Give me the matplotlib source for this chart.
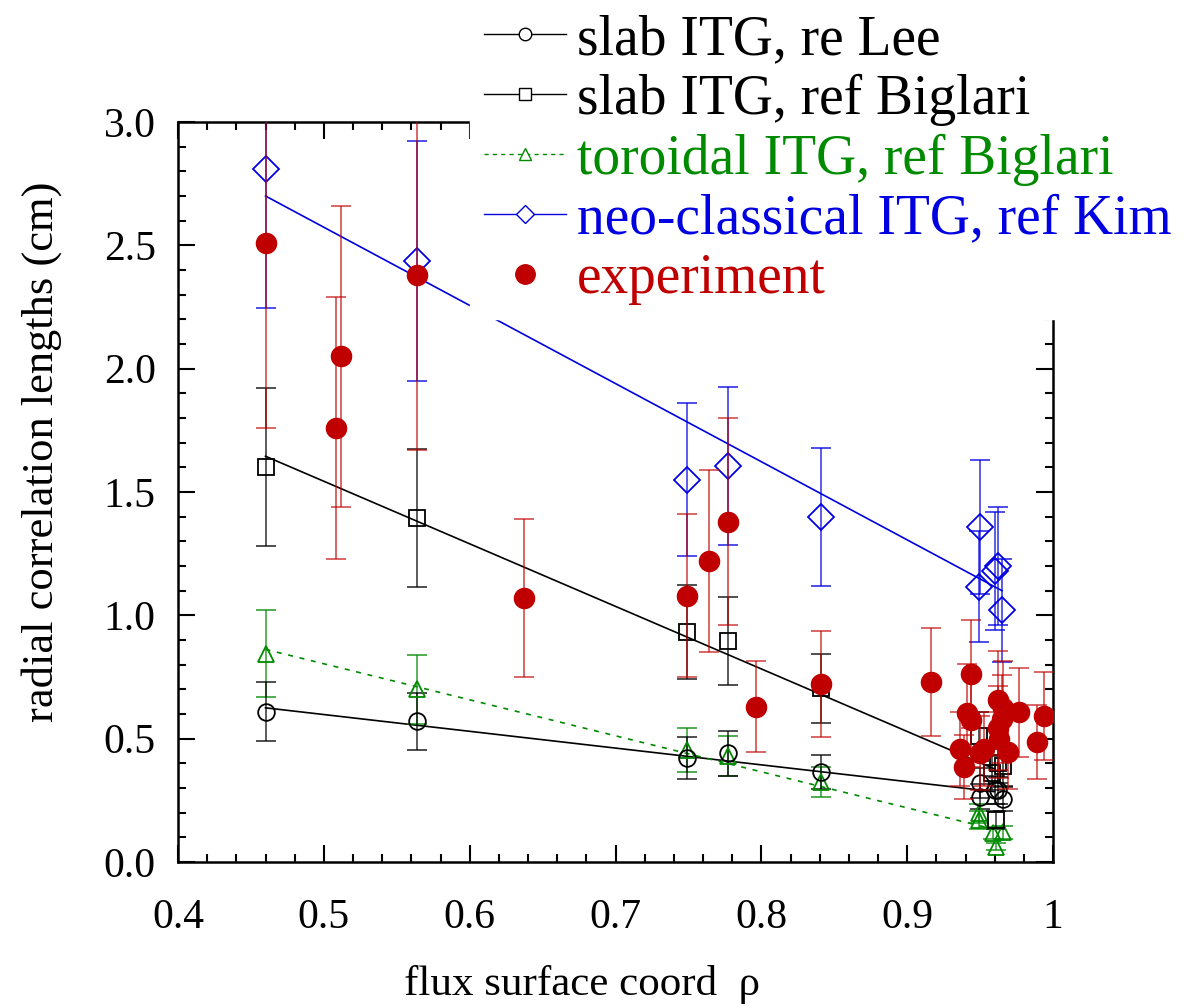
"""
Radial correlation lengths vs flux surface coordinate:
ITG model predictions compared with experiment.
"""

import matplotlib
matplotlib.use('Agg')
import matplotlib.pyplot as plt
from matplotlib.lines import Line2D
from matplotlib.ticker import MultipleLocator, FormatStrFormatter

plt.rcParams['font.family'] = ['Liberation Serif', 'DejaVu Serif']

BLACK = '#000000'
GREEN = '#008a00'
BLUE = '#0000e0'
RED = '#c00000'

# slab ITG, re Lee (open circles)
lee_x = [0.460, 0.564, 0.749, 0.777, 0.841, 0.950, 0.950, 0.960, 0.962, 0.966]
lee_y = [0.61, 0.57, 0.42, 0.44, 0.365, 0.32, 0.265, 0.292, 0.29, 0.255]
lee_err = [0.12, 0.115, 0.085, 0.09, 0.07, 0.06, 0.05, 0.055, 0.055, 0.05]
lee_fit_x = [0.46, 0.96]
lee_fit_y = [0.625, 0.285]

# slab ITG, ref Biglari (open squares)
big_x = [0.460, 0.564, 0.749, 0.777, 0.841, 0.949, 0.958, 0.962, 0.966, 0.961]
big_y = [1.60, 1.395, 0.932, 0.896, 0.705, 0.51, 0.36, 0.40, 0.39, 0.17]
big_err = [0.32, 0.28, 0.19, 0.18, 0.14, 0.10, 0.07, 0.08, 0.08, 0.035]
big_fit_x = [0.46, 0.96]
big_fit_y = [1.645, 0.377]

# toroidal ITG, ref Biglari (open triangles)
tor_x = [0.460, 0.564, 0.749, 0.777, 0.841, 0.949, 0.949, 0.959, 0.961, 0.966]
tor_y = [0.845, 0.70, 0.455, 0.43, 0.325, 0.197, 0.17, 0.117, 0.062, 0.12]
tor_err = [0.175, 0.14, 0.09, 0.08, 0.06, 0.04, 0.035, 0.025, 0.015, 0.025]
tor_fit_x = [0.46, 0.96]
tor_fit_y = [0.862, 0.132]

# neo-classical ITG, ref Kim (open diamonds)
kim_x = [0.460, 0.564, 0.749, 0.777, 0.841, 0.950, 0.949, 0.960, 0.962, 0.965]
kim_y = [2.81, 2.436, 1.55, 1.605, 1.40, 1.358, 1.115, 1.18, 1.20, 1.02]
kim_err = [0.565, 0.485, 0.31, 0.32, 0.28, 0.27, 0.225, 0.24, 0.24, 0.21]
kim_fit_x = [0.46, 0.965]
kim_fit_y = [2.70, 1.10]

# experiment (filled circles)
exp_x = [0.460, 0.508, 0.512, 0.564, 0.637, 0.749, 0.764, 0.777, 0.796, 0.841,
         0.916, 0.944, 0.941, 0.944, 0.936, 0.939, 0.950, 0.953, 0.962, 0.966,
         0.962, 0.963, 0.965, 0.969, 0.977, 0.989, 0.994]
exp_y = [2.51, 1.76, 2.05, 2.38, 1.07, 1.08, 1.22, 1.38, 0.63, 0.72,
         0.73, 0.762, 0.604, 0.576, 0.458, 0.385, 0.44, 0.46, 0.657, 0.624,
         0.543, 0.50, 0.58, 0.446, 0.607, 0.486, 0.592]
exp_err = [0.75, 0.53, 0.61, 0.71, 0.32, 0.33, 0.37, 0.42, 0.185, 0.215,
           0.22, 0.22, 0.20, 0.19, 0.15, 0.13, 0.15, 0.15, 0.20, 0.19,
           0.17, 0.16, 0.18, 0.15, 0.18, 0.15, 0.18]

fig = plt.figure(figsize=(11.86, 10.08), dpi=100)
ax = fig.add_axes([178 / 1186, 146 / 1008, 875 / 1186, 740 / 1008])

ebar_kw = dict(linestyle='none', elinewidth=1.2, capsize=7, capthick=1.2)

# fit lines
ax.plot(lee_fit_x, lee_fit_y, color=BLACK, lw=1.2, zorder=2)
ax.plot(big_fit_x, big_fit_y, color=BLACK, lw=1.2, zorder=2)
ax.plot(tor_fit_x, tor_fit_y, color=GREEN, lw=1.2, ls=(0, (3, 4)), zorder=2)
ax.plot(kim_fit_x, kim_fit_y, color=BLUE, lw=1.2, zorder=2)

# model points with error bars
for xs, ys, es, col, mk, ms in [
        (tor_x, tor_y, tor_err, GREEN, '^', 12),
        (lee_x, lee_y, lee_err, BLACK, 'o', 12),
        (big_x, big_y, big_err, BLACK, 's', 11),
        (kim_x, kim_y, kim_err, BLUE, 'D', 13)]:
    eb = ax.errorbar(xs, ys, yerr=es, marker=mk, ms=ms, mfc='none', mec=col,
                     mew=1.3, ecolor=col, zorder=3, **ebar_kw)
    for c in eb[1] + eb[2]:
        c.set_alpha(0.75)

eb = ax.errorbar(exp_x, exp_y, yerr=exp_err, marker='o', ms=14.5, mfc=RED, mec=RED,
                 ecolor=RED, zorder=4, **ebar_kw)
for c in eb[1] + eb[2]:
    c.set_alpha(0.7)

ax.set_xlim(0.4, 1.0)
ax.set_ylim(0.0, 3.0)
ax.xaxis.set_major_locator(MultipleLocator(0.1))
ax.xaxis.set_minor_locator(MultipleLocator(0.02))
ax.yaxis.set_major_locator(MultipleLocator(0.5))
ax.yaxis.set_minor_locator(MultipleLocator(0.1))
ax.yaxis.set_major_formatter(FormatStrFormatter('%.1f'))
ax.set_xticks([0.4, 0.5, 0.6, 0.7, 0.8, 0.9, 1.0])
ax.set_xticklabels(['0.4', '0.5', '0.6', '0.7', '0.8', '0.9', '1'])

ax.tick_params(which='both', direction='in', top=True, right=True,
               labelsize=30, width=1.5)
ax.tick_params(which='major', length=12)
ax.tick_params(which='minor', length=6)
ax.tick_params(axis='x', pad=26)
ax.tick_params(axis='y', pad=16)
for sp in ax.spines.values():
    sp.set_linewidth(1.8)

ax.set_xlabel('flux surface coord  \u03c1', fontsize=31)
ax.xaxis.set_label_coords(0.462, -0.139)
ax.set_ylabel('radial correlation lengths (cm)', fontsize=32)
ax.yaxis.set_label_coords(-0.133, 0.554)

handles = [
    Line2D([], [], color=BLACK, lw=1, marker='o', ms=9, mfc='white', mec=BLACK),
    Line2D([], [], color=BLACK, lw=1, marker='s', ms=9, mfc='white', mec=BLACK),
    Line2D([], [], color=GREEN, lw=1, ls=(0, (3, 3)), marker='^', ms=9,
           mfc='white', mec=GREEN),
    Line2D([], [], color=BLUE, lw=1, marker='D', ms=9, mfc='white', mec=BLUE),
    Line2D([], [], color=RED, ls='none', marker='o', ms=14, mfc=RED, mec=RED),
]
labels = ['slab ITG, re Lee', 'slab ITG, ref Biglari', 'toroidal ITG, ref Biglari',
          'neo-classical ITG, ref Kim', 'experiment']
leg = ax.legend(handles, labels, loc='upper left',
                bbox_to_anchor=(470 / 1186, 1.0), bbox_transform=fig.transFigure,
                fontsize=40, frameon=True, fancybox=False, framealpha=1.0,
                edgecolor='white', facecolor='white', borderaxespad=0,
                borderpad=0.25, handlelength=1.47, handletextpad=0.2,
                labelspacing=0.14)
for txt, col in zip(leg.get_texts(), [BLACK, BLACK, GREEN, BLUE, RED]):
    txt.set_color(col)
leg.set_zorder(10)

fig.savefig('out.png', dpi=100)
